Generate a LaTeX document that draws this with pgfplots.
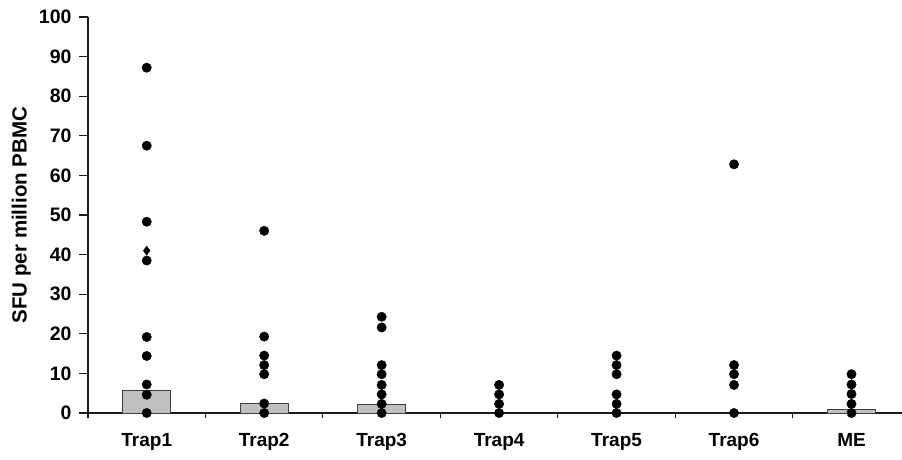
\documentclass[border=0pt]{standalone}
\usepackage{fontspec}
\setmainfont{Liberation Sans}
\usepackage{pgfplots}
\pgfplotsset{compat=1.18}
\definecolor{barfill}{HTML}{C0C0C0}
\definecolor{bardraw}{HTML}{404040}
\definecolor{axiscol}{HTML}{1A1A1A}
\begin{document}
\begin{tikzpicture}
\path[use as bounding box] (-88pt,-46pt) rectangle (814pt,413pt);
\begin{axis}[
  scale only axis, width=814pt, height=396pt,
  xmin=-0.5, xmax=6.43, ymin=0, ymax=100,
  axis x line*=bottom, axis y line*=left,
  axis line style={line width=1.3pt, color=axiscol},
  clip=false,
  ytick={0,10,...,100},
  xtick={0,...,6},
  xticklabels={Trap1,Trap2,Trap3,Trap4,Trap5,Trap6,ME},
  minor xtick={-0.5,0.5,...,5.5},
  tick align=outside,
  major tick length=9pt,
  minor tick length=5pt,
  major x tick style={draw=none},
  tick style={line width=1.1pt, color=axiscol},
  /pgf/number format/assume math mode=true,
  yticklabel style={font=\fontsize{19.5}{22}\selectfont\bfseries, xshift=-4pt},
  xticklabel style={font=\fontsize{19}{22}\selectfont\bfseries, yshift=-8pt},
  ylabel={SFU per million PBMC},
  ylabel style={font=\fontsize{20.5}{23}\selectfont\bfseries, at={(axis description cs:-0.082,0.5)}, anchor=center},
]
\addplot[ybar, bar width=0.41, fill=barfill, draw=bardraw, line width=0.9pt]
  coordinates {(0,5.8) (1,2.3) (2,2.2) (6,1.0)};
\addplot[only marks, mark=*, mark size=4.7pt, color=black] table {
x y
0 87.2
0 67.5
0 48.3
0 38.5
0 19.2
0 14.4
0 7.2
0 4.6
0 0
1 46.0
1 19.3
1 14.5
1 12.1
1 9.8
1 2.4
1 0
2 24.3
2 21.6
2 12.1
2 9.8
2 7.1
2 4.7
2 2.3
2 0
3 7.1
3 4.7
3 2.3
3 0
4 14.5
4 12.1
4 9.8
4 4.7
4 2.3
4 0
5 62.8
5 12.1
5 9.8
5 7.1
5 0
6 9.8
6 7.2
6 4.8
6 2.3
6 0
};
\addplot[only marks, mark=diamond*, mark size=4.5pt, color=black]
  coordinates {(0,41.0)};
\end{axis}
\end{tikzpicture}
\end{document}
